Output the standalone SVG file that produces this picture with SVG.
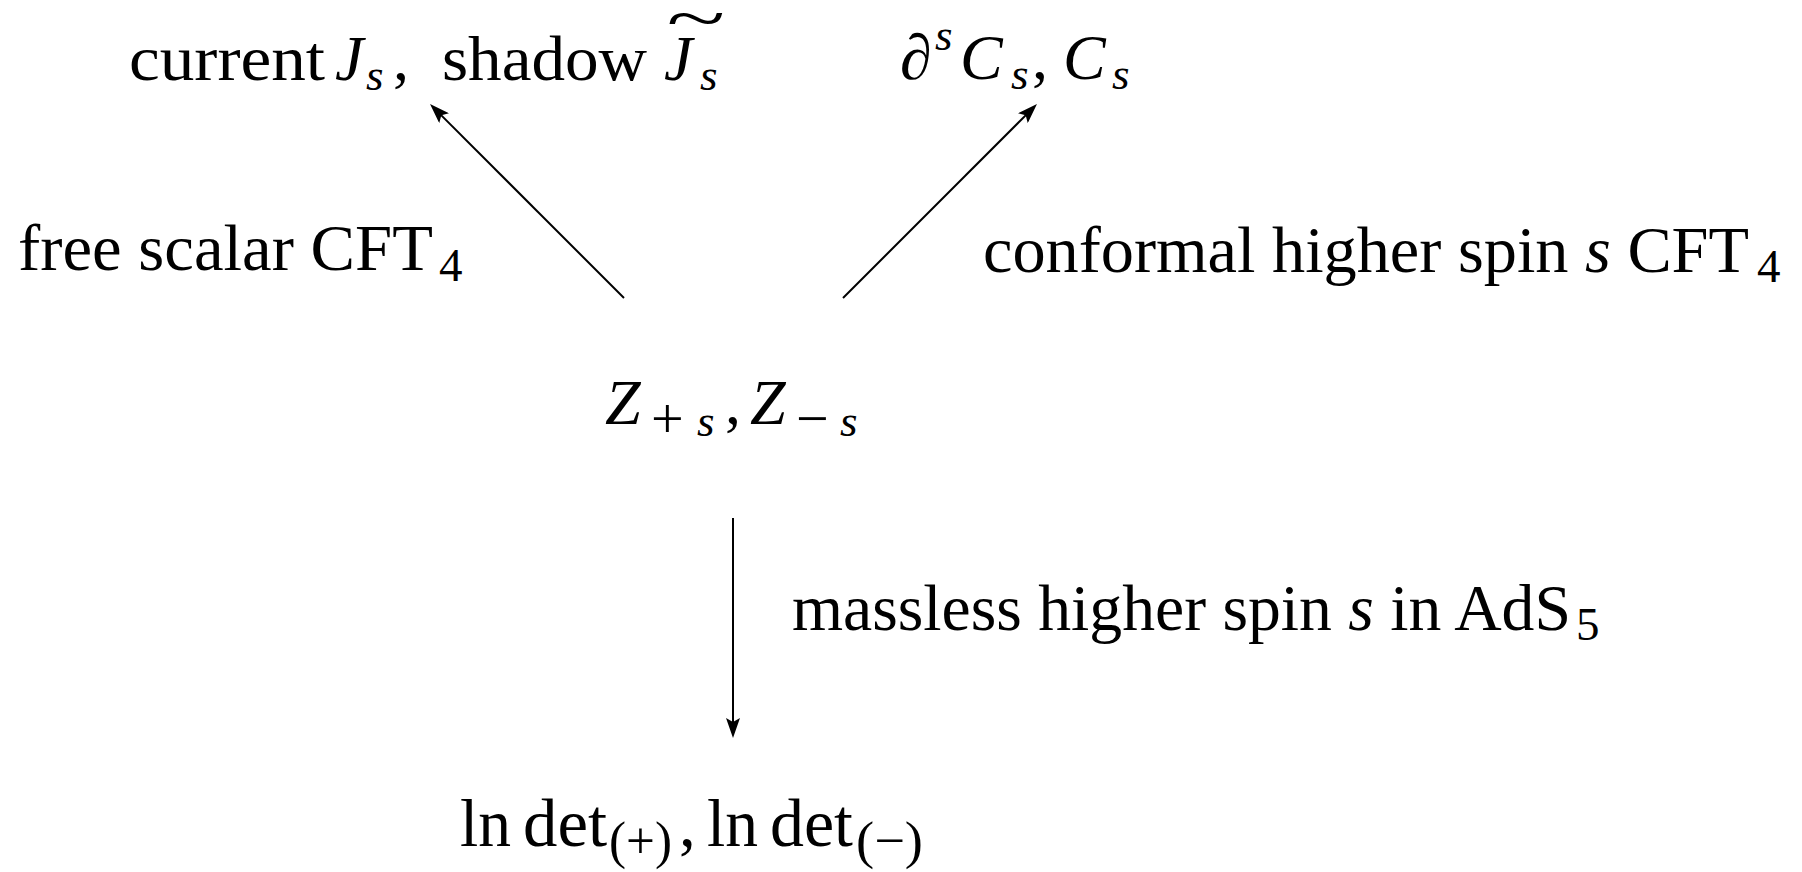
<svg xmlns="http://www.w3.org/2000/svg" width="1802" height="872" viewBox="0 0 1802 872">
<defs>
<style>
text { font-family: "Liberation Serif", "Times New Roman", serif; fill: #000; }
.cm { font-size: 64px; }
.ln { font-size: 67px; }
.i { font-style: italic; }
.sub { font-size: 45px; }
.op { font-size: 58px; }
.par { font-size: 52px; }
.num { font-size: 47px; }
.lbl { font-size: 66px; }
.conn line { stroke: #000; stroke-width: 2; fill: none; }
</style>
<marker id="ah" viewBox="0 -7 20 14" markerWidth="20" markerHeight="14" refX="10" refY="0" orient="auto" markerUnits="userSpaceOnUse">
<path d="M0,-7 L20,0 L0,7 L4,0 Z" fill="#000"/>
</marker>
</defs>
<rect width="1802" height="872" fill="#fff"/>

<g id="node-current">
<text class="cm" x="129" y="80" textLength="196" lengthAdjust="spacingAndGlyphs">current</text>
<text class="cm i" x="335" y="80">J</text>
<text class="sub i" x="366" y="90">s</text>
<text class="cm" x="393" y="80">,</text>
<text class="cm" x="442" y="80" textLength="205" lengthAdjust="spacingAndGlyphs">shadow</text>
<text class="cm i" x="664" y="80">J</text>
<text class="cm" x="0" y="40" text-anchor="middle" transform="translate(696,0) scale(1.7,1)">~</text>
<text class="sub i" x="700" y="90">s</text>
</g>

<g id="node-conformal">
<text class="cm i" x="900" y="79">∂</text>
<text class="sub i" x="935" y="50">s</text>
<text class="cm i" x="960" y="79">C</text>
<text class="sub i" x="1011" y="89">s</text>
<text class="cm" x="1032" y="79">,</text>
<text class="cm i" x="1063" y="79">C</text>
<text class="sub i" x="1112" y="89">s</text>
</g>

<g id="node-Z">
<text class="cm i" x="605" y="424">Z</text>
<text class="op" x="651" y="438">+</text>
<text class="sub i" x="697" y="436">s</text>
<text class="cm" x="725" y="424">,</text>
<text class="cm i" x="750" y="424">Z</text>
<text class="op" x="796" y="438">−</text>
<text class="sub i" x="840" y="436">s</text>
</g>

<g id="node-lndet">
<text class="ln" x="460" y="846" textLength="51" lengthAdjust="spacingAndGlyphs">ln</text>
<text class="ln" x="523" y="846" textLength="84" lengthAdjust="spacingAndGlyphs">det</text>
<text class="par" x="609" y="858" textLength="63" lengthAdjust="spacingAndGlyphs">(+)</text>
<text class="ln" x="679" y="846">,</text>
<text class="ln" x="707" y="846" textLength="51" lengthAdjust="spacingAndGlyphs">ln</text>
<text class="ln" x="770" y="846" textLength="83" lengthAdjust="spacingAndGlyphs">det</text>
<text class="par" x="856" y="858" textLength="67" lengthAdjust="spacingAndGlyphs">(−)</text>
</g>

<g id="label-free">
<text class="lbl" x="18" y="270" textLength="415" lengthAdjust="spacingAndGlyphs">free scalar CFT</text>
<text class="num" x="439" y="281">4</text>
</g>

<g id="label-hs">
<text class="lbl" x="983" y="272" textLength="766" lengthAdjust="spacingAndGlyphs">conformal higher spin <tspan class="i">s</tspan> CFT</text>
<text class="num" x="1757" y="282">4</text>
</g>

<g id="label-ads">
<text class="lbl" x="792" y="630" textLength="779" lengthAdjust="spacingAndGlyphs">massless higher spin <tspan class="i">s</tspan> in AdS</text>
<text class="num" x="1576" y="640">5</text>
</g>

<g id="connectors" class="conn">
<line x1="624" y1="298" x2="437.1" y2="111.1" marker-end="url(#ah)"/>
<line x1="843" y1="298" x2="1029.9" y2="111.1" marker-end="url(#ah)"/>
<line x1="733" y1="518" x2="733" y2="728" marker-end="url(#ah)"/>
</g>
</svg>
